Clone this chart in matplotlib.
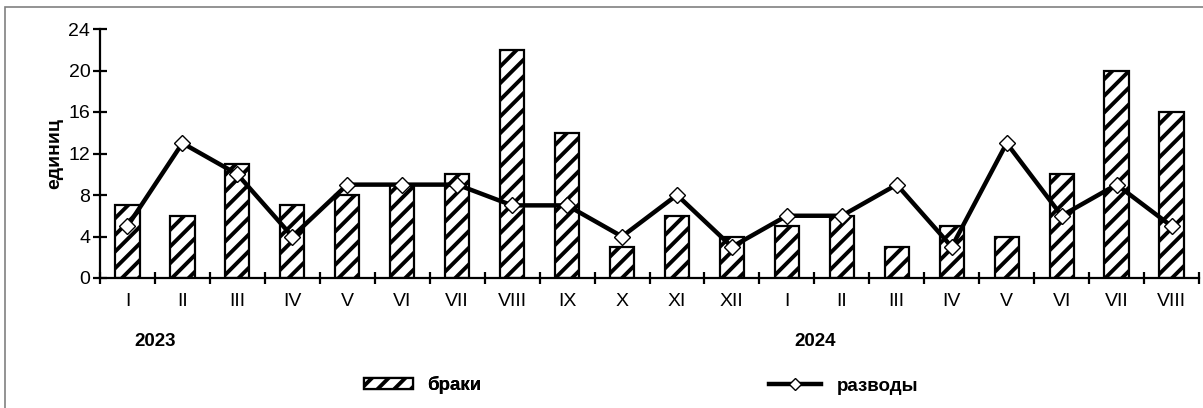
import numpy as np
import matplotlib
matplotlib.use('Agg')
import matplotlib.pyplot as plt
from matplotlib.patches import Rectangle

# данные
mesyacy = ['I', 'II', 'III', 'IV', 'V', 'VI', 'VII', 'VIII', 'IX', 'X', 'XI', 'XII',
           'I', 'II', 'III', 'IV', 'V', 'VI', 'VII', 'VIII']
braki = [7, 6, 11, 7, 8, 9, 10, 22, 14, 3, 6, 4, 5, 6, 3, 5, 4, 10, 20, 16]
razvody = [5, 13, 10, 4, 9, 9, 9, 7, 7, 4, 8, 3, 6, 6, 9, 3, 13, 6, 9, 5]
gody = ['2023', '2024']
y_ticks = [0, 4, 8, 12, 16, 20, 24]

plt.rcParams['font.family'] = ['Liberation Sans', 'DejaVu Sans']
plt.rcParams['font.size'] = 14
plt.rcParams['hatch.linewidth'] = 2.8

fig = plt.figure(figsize=(12.03, 4.08), dpi=100)
ax = fig.add_axes([100 / 1203, 1 - 278 / 408, 1099 / 1203, 249 / 408])

x = np.arange(len(mesyacy))
bars = ax.bar(x, braki, width=0.44, color='white', edgecolor='black',
              linewidth=1.6, hatch='//', label='браки', zorder=2)
linia, = ax.plot(x, razvody, color='black', linewidth=3.2, marker='D',
                 markersize=8, markerfacecolor='white', markeredgecolor='black',
                 markeredgewidth=1.0, label='разводы', zorder=3)

ax.set_xlim(-0.5, len(mesyacy) - 0.5)
ax.set_ylim(0, 24)
ax.set_yticks(y_ticks)
ax.set_xticks(np.arange(len(mesyacy) + 1) - 0.5)
ax.set_xticklabels([])
ax.set_xticks(x, minor=True)
ax.set_xticklabels(mesyacy, minor=True)
ax.tick_params(axis='x', which='minor', length=0, pad=11)
ax.tick_params(axis='x', which='major', direction='inout', length=9, width=1.6)
ax.tick_params(axis='y', direction='inout', length=10, width=1.6, pad=2)

for s in ['top', 'right']:
    ax.spines[s].set_visible(False)
for s in ['left', 'bottom']:
    ax.spines[s].set_linewidth(1.6)

ax.set_ylabel('единиц', fontweight='bold', fontsize=14, labelpad=4)

# подписи годов
fig.text(155 / 1203, 1 - 342 / 408, gody[0], ha='center', va='center', fontweight='bold', fontsize=13.5)
fig.text(815 / 1203, 1 - 342 / 408, gody[1], ha='center', va='center', fontweight='bold', fontsize=13.5)

# легенда
leg1 = fig.legend(handles=[bars], loc='center left', bbox_to_anchor=(347 / 1203, 1 - 385 / 408),
                  frameon=False, handlelength=2.6, handleheight=0.55, handletextpad=0.8,
                  prop={'weight': 'bold', 'size': 13.5})
fig.legend(handles=[linia], loc='center left', bbox_to_anchor=(752 / 1203, 1 - 386 / 408),
           frameon=False, handlelength=2.8, handletextpad=0.8, markerscale=0.75,
           prop={'weight': 'bold', 'size': 13.5})
fig.add_artist(leg1)

# рамка
fig.patches.append(Rectangle((5 / 1203, -0.1), 1.2, 1 - 7 / 408 + 0.1,
                             transform=fig.transFigure, fill=False,
                             edgecolor='#808080', linewidth=1.2))

fig.savefig('out.png', dpi=100)
